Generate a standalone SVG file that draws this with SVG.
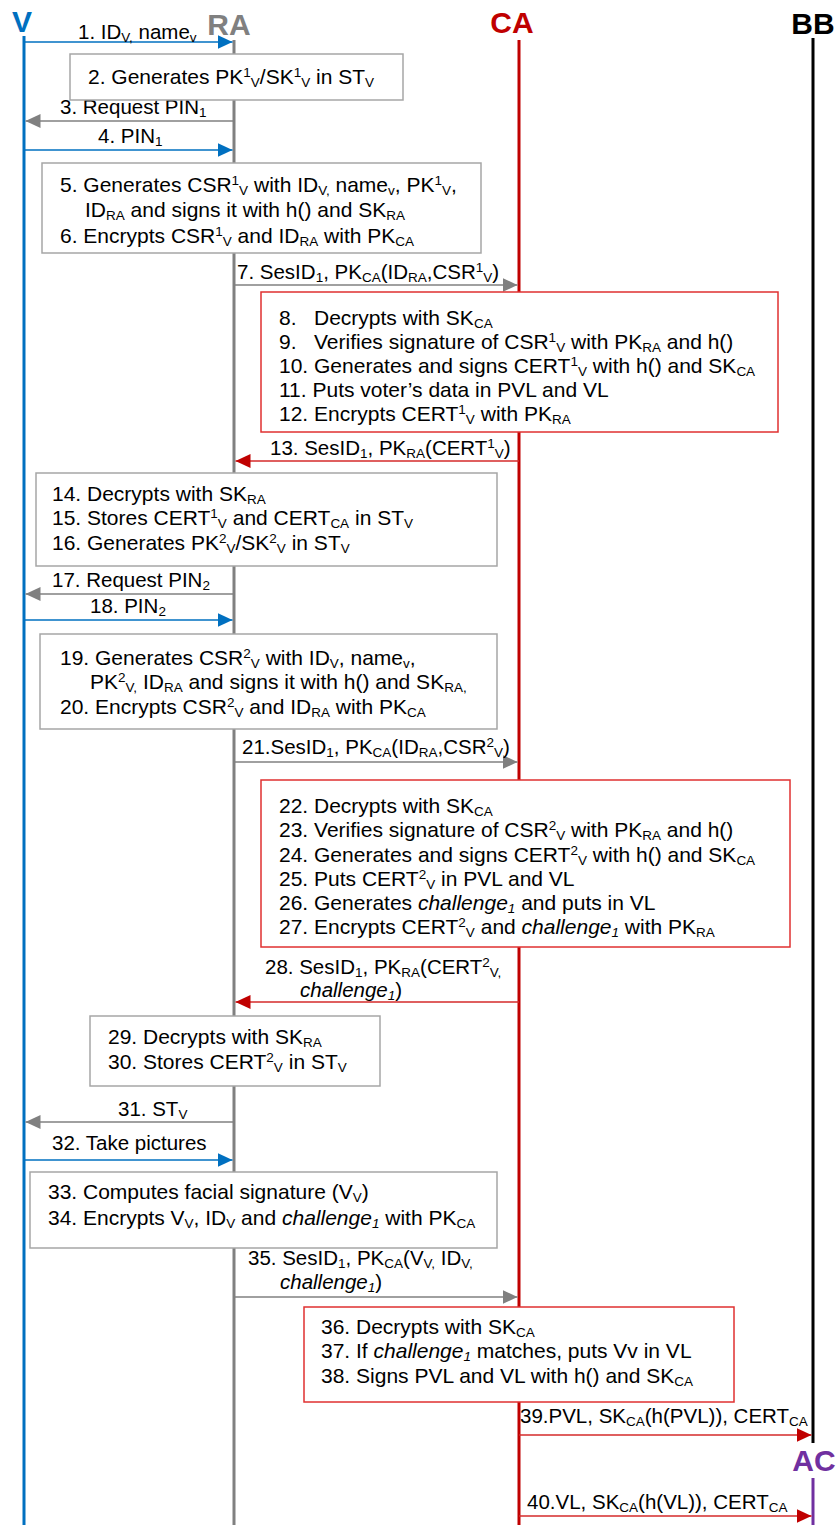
<svg xmlns="http://www.w3.org/2000/svg" width="836" height="1525" viewBox="0 0 836 1525">
<defs>
<style>
text{font-family:"Liberation Sans",Arial,sans-serif;fill:#000}
.t{font-size:21px}
.l{font-size:20.5px}
.h{font-size:30px;font-weight:bold;text-anchor:middle}
.b{font-size:13.5px}
.i{font-style:italic}
.gb{fill:#fff;stroke:#A6A6A6;stroke-width:1.5}
.rb{fill:#fff;stroke:#E03030;stroke-width:1.5}
.life{stroke-width:3;fill:none}
.ab{stroke:#0070C0;stroke-width:1.6;marker-end:url(#mb)}
.ag{stroke:#808080;stroke-width:1.6;marker-end:url(#mg)}
.ar{stroke:#D42A2A;stroke-width:1.6;marker-end:url(#mr)}
</style>
<marker id="mb" viewBox="0 0 15 14" refX="15" refY="7" markerWidth="15" markerHeight="14" markerUnits="userSpaceOnUse" orient="auto"><path d="M0,0L15,7L0,14z" fill="#0070C0"/></marker>
<marker id="mg" viewBox="0 0 15 14" refX="15" refY="7" markerWidth="15" markerHeight="14" markerUnits="userSpaceOnUse" orient="auto"><path d="M0,0L15,7L0,14z" fill="#808080"/></marker>
<marker id="mr" viewBox="0 0 15 14" refX="15" refY="7" markerWidth="15" markerHeight="14" markerUnits="userSpaceOnUse" orient="auto"><path d="M0,0L15,7L0,14z" fill="#C00000"/></marker>
</defs>
<rect width="836" height="1525" fill="#fff"/>

<g id="lifelines">
<g id="V"><line class="life" x1="24" y1="36" x2="24" y2="1525" stroke="#0070C0"/><text class="h" x="22" y="32" style="fill:#0070C0">V</text></g>
<g id="RA"><line class="life" x1="234" y1="40" x2="234" y2="1525" stroke="#808080"/><text class="h" x="229" y="35" style="fill:#808080">RA</text></g>
<g id="CA"><line class="life" x1="519" y1="40" x2="519" y2="1525" stroke="#C00000"/><text class="h" x="512" y="33" style="fill:#C00000">CA</text></g>
<g id="BB"><line class="life" x1="813" y1="38" x2="813" y2="1443" stroke="#000"/><text class="h" x="813" y="34">BB</text></g>
<g id="AC"><line class="life" x1="813" y1="1478" x2="813" y2="1525" stroke="#7030A0"/><text class="h" x="814" y="1471" style="fill:#7030A0">AC</text></g>
</g>

<g id="connectors">
<line class="ab" x1="24" y1="42" x2="232.5" y2="42"/>
<line class="ag" x1="234" y1="121" x2="25.5" y2="121"/>
<line class="ab" x1="24" y1="150" x2="232.5" y2="150"/>
<line class="ag" x1="234" y1="285" x2="517.5" y2="285"/>
<line class="ar" x1="519" y1="461" x2="235.5" y2="461"/>
<line class="ag" x1="234" y1="594" x2="25.5" y2="594"/>
<line class="ab" x1="24" y1="620" x2="232.5" y2="620"/>
<line class="ag" x1="234" y1="762" x2="517.5" y2="762"/>
<line class="ar" x1="519" y1="1002" x2="235.5" y2="1002"/>
<line class="ag" x1="234" y1="1122" x2="25.5" y2="1122"/>
<line class="ab" x1="24" y1="1160" x2="232.5" y2="1160"/>
<line class="ag" x1="234" y1="1297" x2="517.5" y2="1297"/>
<line class="ar" x1="519" y1="1435" x2="811.5" y2="1435"/>
<line class="ar" x1="519" y1="1516" x2="811.5" y2="1516"/>
<text class="l" x="78" y="39">1. ID<tspan class="b" dy="3">V,</tspan><tspan dy="-3"> name</tspan><tspan class="b" dy="3">v</tspan></text>
<text class="l" x="60" y="114">3. Request PIN<tspan class="b" dy="3">1</tspan></text>
<text class="l" x="98" y="143">4. PIN<tspan class="b" dy="3">1</tspan></text>
<text class="l" x="237" y="279">7. SesID<tspan class="b" dy="3">1</tspan><tspan dy="-3">, PK</tspan><tspan class="b" dy="3">CA</tspan><tspan dy="-3">(ID</tspan><tspan class="b" dy="3">RA</tspan><tspan dy="-3">,CSR</tspan><tspan class="b" dy="-7">1</tspan><tspan class="b" dy="10">V</tspan><tspan dy="-3">)</tspan></text>
<text class="l" x="270" y="455">13. SesID<tspan class="b" dy="3">1</tspan><tspan dy="-3">, PK</tspan><tspan class="b" dy="3">RA</tspan><tspan dy="-3">(CERT</tspan><tspan class="b" dy="-7">1</tspan><tspan class="b" dy="10">V</tspan><tspan dy="-3">)</tspan></text>
<text class="l" x="52" y="587">17. Request PIN<tspan class="b" dy="3">2</tspan></text>
<text class="l" x="90" y="613">18. PIN<tspan class="b" dy="3">2</tspan></text>
<text class="l" x="242" y="754">21.SesID<tspan class="b" dy="3">1</tspan><tspan dy="-3">, PK</tspan><tspan class="b" dy="3">CA</tspan><tspan dy="-3">(ID</tspan><tspan class="b" dy="3">RA</tspan><tspan dy="-3">,CSR</tspan><tspan class="b" dy="-7">2</tspan><tspan class="b" dy="10">V</tspan><tspan dy="-3">)</tspan></text>
<text class="l" x="265" y="974">28. SesID<tspan class="b" dy="3">1</tspan><tspan dy="-3">, PK</tspan><tspan class="b" dy="3">RA</tspan><tspan dy="-3">(CERT</tspan><tspan class="b" dy="-7">2</tspan><tspan class="b" dy="10">V,</tspan></text>
<text class="l" x="300" y="997"><tspan class="i">challenge</tspan><tspan class="b i" dy="3">1</tspan><tspan dy="-3">)</tspan></text>
<text class="l" x="118" y="1116">31. ST<tspan class="b" dy="3">V</tspan></text>
<text class="l" x="52" y="1150">32. Take pictures</text>
<text class="l" x="248" y="1265">35. SesID<tspan class="b" dy="3">1</tspan><tspan dy="-3">, PK</tspan><tspan class="b" dy="3">CA</tspan><tspan dy="-3">(V</tspan><tspan class="b" dy="3">V,</tspan><tspan dy="-3"> ID</tspan><tspan class="b" dy="3">V,</tspan></text>
<text class="l" x="280" y="1289"><tspan class="i">challenge</tspan><tspan class="b i" dy="3">1</tspan><tspan dy="-3">)</tspan></text>
<text class="l" x="520" y="1423">39.PVL, SK<tspan class="b" dy="3">CA</tspan><tspan dy="-3">(h(PVL)), CERT</tspan><tspan class="b" dy="3">CA</tspan></text>
<text class="l" x="527" y="1509">40.VL, SK<tspan class="b" dy="3">CA</tspan><tspan dy="-3">(h(VL)), CERT</tspan><tspan class="b" dy="3">CA</tspan></text>
</g>

<g id="box2"><rect class="gb" x="70" y="54" width="333" height="46"/>
<text class="t" x="88" y="84">2. Generates PK<tspan class="b" dy="-7">1</tspan><tspan class="b" dy="10">V</tspan><tspan dy="-3">/SK</tspan><tspan class="b" dy="-7">1</tspan><tspan class="b" dy="10">V</tspan><tspan dy="-3"> in ST</tspan><tspan class="b" dy="3">V</tspan></text></g>

<g id="box5"><rect class="gb" x="42" y="163" width="439" height="90"/>
<text class="t" x="60" y="192">5. Generates CSR<tspan class="b" dy="-7">1</tspan><tspan class="b" dy="10">V</tspan><tspan dy="-3"> with ID</tspan><tspan class="b" dy="3">V,</tspan><tspan dy="-3"> name</tspan><tspan class="b" dy="3">v</tspan><tspan dy="-3">, PK</tspan><tspan class="b" dy="-7">1</tspan><tspan class="b" dy="10">V</tspan><tspan dy="-3">,</tspan></text>
<text class="t" x="85" y="217">ID<tspan class="b" dy="3">RA</tspan><tspan dy="-3"> and signs it with h() and SK</tspan><tspan class="b" dy="3">RA</tspan></text>
<text class="t" x="60" y="243">6. Encrypts CSR<tspan class="b" dy="-7">1</tspan><tspan class="b" dy="10">V</tspan><tspan dy="-3"> and ID</tspan><tspan class="b" dy="3">RA</tspan><tspan dy="-3"> with PK</tspan><tspan class="b" dy="3">CA</tspan></text></g>

<g id="box8"><rect class="rb" x="261" y="292" width="517" height="140"/>
<text class="t" x="279" y="325">8.<tspan x="314">Decrypts with SK</tspan><tspan class="b" dy="3">CA</tspan></text>
<text class="t" x="279" y="349">9.<tspan x="314">Verifies signature of CSR</tspan><tspan class="b" dy="-7">1</tspan><tspan class="b" dy="10">V</tspan><tspan dy="-3"> with PK</tspan><tspan class="b" dy="3">RA</tspan><tspan dy="-3"> and h()</tspan></text>
<text class="t" x="279" y="373">10. Generates and signs CERT<tspan class="b" dy="-7">1</tspan><tspan class="b" dy="10">V</tspan><tspan dy="-3"> with h() and SK</tspan><tspan class="b" dy="3">CA</tspan></text>
<text class="t" x="279" y="397">11. Puts voter’s data in PVL and VL</text>
<text class="t" x="279" y="421">12. Encrypts CERT<tspan class="b" dy="-7">1</tspan><tspan class="b" dy="10">V</tspan><tspan dy="-3"> with PK</tspan><tspan class="b" dy="3">RA</tspan></text></g>

<g id="box14"><rect class="gb" x="36" y="473" width="461" height="93"/>
<text class="t" x="52" y="501">14. Decrypts with SK<tspan class="b" dy="3">RA</tspan></text>
<text class="t" x="52" y="525">15. Stores CERT<tspan class="b" dy="-7">1</tspan><tspan class="b" dy="10">V</tspan><tspan dy="-3"> and CERT</tspan><tspan class="b" dy="3">CA</tspan><tspan dy="-3"> in ST</tspan><tspan class="b" dy="3">V</tspan></text>
<text class="t" x="52" y="550">16. Generates PK<tspan class="b" dy="-7">2</tspan><tspan class="b" dy="10">V</tspan><tspan dy="-3">/SK</tspan><tspan class="b" dy="-7">2</tspan><tspan class="b" dy="10">V</tspan><tspan dy="-3"> in ST</tspan><tspan class="b" dy="3">V</tspan></text></g>

<g id="box19"><rect class="gb" x="40" y="634" width="457" height="95"/>
<text class="t" x="60" y="665">19. Generates CSR<tspan class="b" dy="-7">2</tspan><tspan class="b" dy="10">V</tspan><tspan dy="-3"> with ID</tspan><tspan class="b" dy="3">V</tspan><tspan dy="-3">, name</tspan><tspan class="b" dy="3">v</tspan><tspan dy="-3">,</tspan></text>
<text class="t" x="90" y="689">PK<tspan class="b" dy="-7">2</tspan><tspan class="b" dy="10">V,</tspan><tspan dy="-3"> ID</tspan><tspan class="b" dy="3">RA</tspan><tspan dy="-3"> and signs it with h() and SK</tspan><tspan class="b" dy="3">RA,</tspan></text>
<text class="t" x="60" y="714">20. Encrypts CSR<tspan class="b" dy="-7">2</tspan><tspan class="b" dy="10">V</tspan><tspan dy="-3"> and ID</tspan><tspan class="b" dy="3">RA</tspan><tspan dy="-3"> with PK</tspan><tspan class="b" dy="3">CA</tspan></text></g>

<g id="box22"><rect class="rb" x="261" y="780" width="529" height="167"/>
<text class="t" x="279" y="813">22. Decrypts with SK<tspan class="b" dy="3">CA</tspan></text>
<text class="t" x="279" y="837">23. Verifies signature of CSR<tspan class="b" dy="-7">2</tspan><tspan class="b" dy="10">V</tspan><tspan dy="-3"> with PK</tspan><tspan class="b" dy="3">RA</tspan><tspan dy="-3"> and h()</tspan></text>
<text class="t" x="279" y="862">24. Generates and signs CERT<tspan class="b" dy="-7">2</tspan><tspan class="b" dy="10">V</tspan><tspan dy="-3"> with h() and SK</tspan><tspan class="b" dy="3">CA</tspan></text>
<text class="t" x="279" y="886">25. Puts CERT<tspan class="b" dy="-7">2</tspan><tspan class="b" dy="10">V</tspan><tspan dy="-3"> in PVL and VL</tspan></text>
<text class="t" x="279" y="910">26. Generates <tspan class="i">challenge</tspan><tspan class="b i" dy="3">1</tspan><tspan dy="-3"> and puts in VL</tspan></text>
<text class="t" x="279" y="934">27. Encrypts CERT<tspan class="b" dy="-7">2</tspan><tspan class="b" dy="10">V</tspan><tspan dy="-3"> and </tspan><tspan class="i">challenge</tspan><tspan class="b i" dy="3">1</tspan><tspan dy="-3"> with PK</tspan><tspan class="b" dy="3">RA</tspan></text></g>

<g id="box29"><rect class="gb" x="90" y="1016" width="290" height="70"/>
<text class="t" x="108" y="1044">29. Decrypts with SK<tspan class="b" dy="3">RA</tspan></text>
<text class="t" x="108" y="1069">30. Stores CERT<tspan class="b" dy="-7">2</tspan><tspan class="b" dy="10">V</tspan><tspan dy="-3"> in ST</tspan><tspan class="b" dy="3">V</tspan></text></g>

<g id="box33"><rect class="gb" x="30" y="1172" width="467" height="76"/>
<text class="t" x="48" y="1199">33. Computes facial signature (V<tspan class="b" dy="3">V</tspan><tspan dy="-3">)</tspan></text>
<text class="t" x="48" y="1225">34. Encrypts V<tspan class="b" dy="3">V</tspan><tspan dy="-3">, ID</tspan><tspan class="b" dy="3">V</tspan><tspan dy="-3"> and </tspan><tspan class="i">challenge</tspan><tspan class="b i" dy="3">1</tspan><tspan dy="-3"> with PK</tspan><tspan class="b" dy="3">CA</tspan></text></g>

<g id="box36"><rect class="rb" x="304" y="1307" width="430" height="95"/>
<text class="t" x="321" y="1334">36. Decrypts with SK<tspan class="b" dy="3">CA</tspan></text>
<text class="t" x="321" y="1358">37. If <tspan class="i">challenge</tspan><tspan class="b i" dy="3">1</tspan><tspan dy="-3"> matches, puts Vv in VL</tspan></text>
<text class="t" x="321" y="1383">38. Signs PVL and VL with h() and SK<tspan class="b" dy="3">CA</tspan></text></g>
</svg>
